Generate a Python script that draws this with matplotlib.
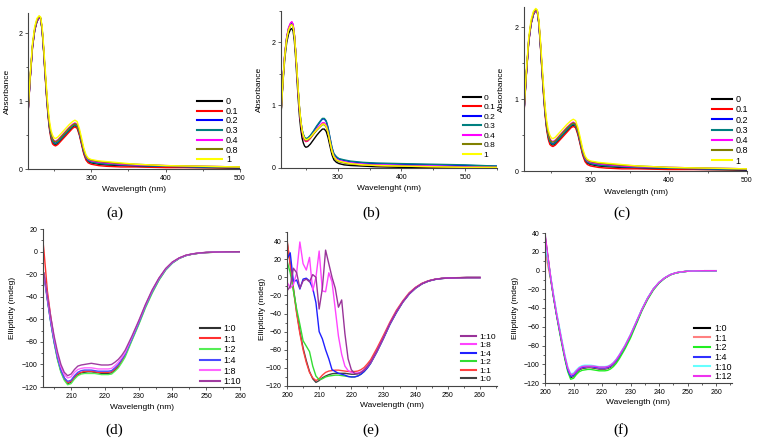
import numpy as np
import matplotlib
matplotlib.use('Agg')
from matplotlib import pyplot as plt
from matplotlib.ticker import MultipleLocator

W, H = 759, 442                      # output size in px
plt.rcParams['font.family'] = ['Liberation Sans', 'DejaVu Sans']

#%% UV-vis data, panel (a) (panel (c) reads the same)
wl_a = [215, 218, 221, 224, 227, 230, 232, 234, 236, 238, 240, 242, 244, 246, 248, 250, 252, 255, 260, 265,
        270, 275, 278, 281, 284, 287, 290, 293, 296, 300, 310, 320, 340, 360, 400, 450, 500]
a_0   = [0.82, 1.35, 1.80, 2.05, 2.18, 2.24, 2.22, 2.05, 1.75, 1.40, 1.08, 0.80, 0.60, 0.47, 0.40, 0.37, 0.36, 0.38, 0.44, 0.50,
         0.56, 0.62, 0.64, 0.62, 0.52, 0.38, 0.24, 0.15, 0.11, 0.09, 0.07, 0.06, 0.05, 0.04, 0.03, 0.02, 0.01]
a_01  = [0.80, 1.33, 1.78, 2.04, 2.17, 2.23, 2.21, 2.04, 1.73, 1.38, 1.05, 0.77, 0.57, 0.44, 0.37, 0.35, 0.34, 0.36, 0.42, 0.48,
         0.54, 0.60, 0.62, 0.60, 0.50, 0.36, 0.22, 0.13, 0.09, 0.07, 0.05, 0.04, 0.03, 0.03, 0.02, 0.02, 0.02]
a_02  = [0.82, 1.35, 1.80, 2.05, 2.18, 2.24, 2.22, 2.06, 1.76, 1.42, 1.10, 0.82, 0.62, 0.49, 0.42, 0.39, 0.38, 0.40, 0.46, 0.52,
         0.58, 0.64, 0.66, 0.64, 0.54, 0.40, 0.26, 0.17, 0.13, 0.11, 0.09, 0.08, 0.06, 0.05, 0.04, 0.03, 0.02]
a_03  = [0.82, 1.35, 1.80, 2.05, 2.18, 2.24, 2.22, 2.05, 1.75, 1.41, 1.09, 0.81, 0.61, 0.48, 0.41, 0.38, 0.37, 0.39, 0.45, 0.51,
         0.57, 0.63, 0.65, 0.63, 0.53, 0.39, 0.25, 0.16, 0.12, 0.10, 0.08, 0.07, 0.06, 0.05, 0.04, 0.03, 0.02]
a_04  = [0.83, 1.36, 1.81, 2.06, 2.19, 2.24, 2.22, 2.07, 1.78, 1.44, 1.13, 0.85, 0.65, 0.52, 0.45, 0.42, 0.41, 0.43, 0.49, 0.55,
         0.61, 0.66, 0.68, 0.66, 0.56, 0.42, 0.28, 0.18, 0.14, 0.12, 0.10, 0.09, 0.07, 0.06, 0.05, 0.04, 0.03]
a_08  = [0.84, 1.37, 1.82, 2.07, 2.20, 2.25, 2.23, 2.07, 1.78, 1.44, 1.12, 0.84, 0.64, 0.51, 0.44, 0.41, 0.40, 0.42, 0.48, 0.54,
         0.60, 0.65, 0.67, 0.65, 0.56, 0.42, 0.28, 0.19, 0.15, 0.13, 0.11, 0.10, 0.08, 0.07, 0.05, 0.04, 0.03]
a_1   = [0.85, 1.40, 1.85, 2.10, 2.22, 2.26, 2.24, 2.10, 1.82, 1.50, 1.18, 0.90, 0.70, 0.57, 0.50, 0.46, 0.45, 0.47, 0.53, 0.59,
         0.65, 0.70, 0.72, 0.70, 0.60, 0.46, 0.31, 0.21, 0.16, 0.14, 0.12, 0.11, 0.09, 0.07, 0.05, 0.04, 0.03]

#%% UV-vis data, panel (b)
wl_b = [211, 214, 217, 220, 223, 226, 228, 230, 232, 234, 236, 238, 240, 242, 244, 246, 248, 250, 253, 257,
        262, 267, 272, 276, 279, 282, 285, 288, 291, 294, 298, 302, 310, 320, 340, 360, 400, 450, 500, 550]
b_0   = [0.84, 1.35, 1.75, 2.00, 2.14, 2.21, 2.22, 2.18, 2.02, 1.75, 1.42, 1.10, 0.82, 0.62, 0.48, 0.40, 0.35, 0.33, 0.34, 0.38,
         0.45, 0.52, 0.58, 0.62, 0.62, 0.58, 0.48, 0.34, 0.21, 0.13, 0.09, 0.07, 0.05, 0.04, 0.03, 0.02, 0.01, 0.01, 0.00, 0.00]
b_01  = [0.86, 1.39, 1.82, 2.08, 2.23, 2.30, 2.32, 2.28, 2.12, 1.85, 1.53, 1.21, 0.93, 0.72, 0.58, 0.49, 0.44, 0.42, 0.43, 0.47,
         0.54, 0.61, 0.67, 0.71, 0.71, 0.67, 0.56, 0.41, 0.27, 0.18, 0.13, 0.11, 0.09, 0.07, 0.05, 0.04, 0.03, 0.02, 0.01, 0.01]
b_02  = [0.86, 1.39, 1.81, 2.07, 2.21, 2.28, 2.30, 2.26, 2.11, 1.85, 1.54, 1.23, 0.95, 0.75, 0.61, 0.53, 0.48, 0.46, 0.47, 0.51,
         0.58, 0.66, 0.73, 0.78, 0.78, 0.74, 0.63, 0.47, 0.32, 0.22, 0.17, 0.14, 0.12, 0.10, 0.08, 0.07, 0.06, 0.05, 0.04, 0.03]
b_03  = [0.86, 1.40, 1.82, 2.08, 2.22, 2.29, 2.31, 2.27, 2.12, 1.86, 1.55, 1.24, 0.96, 0.76, 0.62, 0.54, 0.49, 0.47, 0.48, 0.52,
         0.59, 0.67, 0.74, 0.79, 0.79, 0.75, 0.64, 0.48, 0.33, 0.23, 0.18, 0.15, 0.13, 0.11, 0.09, 0.08, 0.07, 0.06, 0.05, 0.03]
b_04  = [0.87, 1.40, 1.83, 2.09, 2.24, 2.31, 2.33, 2.29, 2.13, 1.86, 1.54, 1.22, 0.94, 0.73, 0.59, 0.50, 0.45, 0.43, 0.44, 0.48,
         0.55, 0.62, 0.68, 0.72, 0.72, 0.68, 0.57, 0.42, 0.28, 0.19, 0.14, 0.12, 0.10, 0.08, 0.06, 0.05, 0.04, 0.03, 0.02, 0.01]
b_08  = [0.86, 1.38, 1.80, 2.06, 2.20, 2.27, 2.28, 2.25, 2.10, 1.85, 1.55, 1.24, 0.96, 0.75, 0.60, 0.51, 0.46, 0.44, 0.45, 0.48,
         0.54, 0.60, 0.65, 0.69, 0.69, 0.65, 0.55, 0.40, 0.26, 0.17, 0.12, 0.10, 0.08, 0.06, 0.05, 0.04, 0.03, 0.02, 0.01, 0.01]
b_1   = [0.86, 1.38, 1.80, 2.06, 2.20, 2.27, 2.28, 2.25, 2.11, 1.86, 1.56, 1.25, 0.97, 0.76, 0.61, 0.52, 0.47, 0.45, 0.46, 0.49,
         0.55, 0.61, 0.66, 0.70, 0.70, 0.66, 0.56, 0.41, 0.27, 0.18, 0.13, 0.11, 0.09, 0.07, 0.05, 0.04, 0.03, 0.02, 0.01, 0.01]

uv_labels = ['0', '0.1', '0.2', '0.3', '0.4', '0.8', '1']
uv_colors = ['black', '#ff0000', '#0000ff', '#008080', '#ff00ff', '#808000', '#ffff00']

#%% CD data, panel (d)
wl_d = [201.5, 202, 203, 204, 205, 206, 207, 208, 209, 210, 211, 212, 213, 214, 215, 216, 217, 218, 219, 220,
        221, 222, 223, 224, 225, 226, 228, 230, 232, 234, 236, 238, 240, 242, 244, 246, 248, 250, 253, 256, 260]
d_10  = [np.nan, -20, -42, -62, -80, -95, -106, -113, -117, -116, -112, -109, -107.5, -107, -106.5, -106.5, -107, -107.5, -108, -108,
         -108, -107.5, -105, -102, -97, -92, -78, -64, -49, -36, -25, -16, -10, -6, -3.5, -2.2, -1.4, -0.9, -0.5, -0.3, -0.2]
d_11  = [15, 0, -35, -58, -78, -94, -105, -112, -116, -115, -111, -108, -107, -106, -106, -106, -106.5, -107, -107, -107,
         -107, -106.5, -104, -101, -96.5, -91.5, -77, -63, -48, -35, -24, -15.5, -9.5, -5.8, -3.4, -2.1, -1.3, -0.8, -0.4, -0.2, -0.1]
d_12  = [np.nan, -19, -42, -63, -81, -96, -107, -114, -118, -117, -113, -110, -108.5, -108, -108, -108, -108, -108.5, -109, -109,
         -109, -108.5, -106, -103, -98.5, -93.5, -79, -65, -50, -37, -25.5, -16.5, -10.2, -6.1, -3.6, -2.2, -1.4, -0.9, -0.5, -0.3, -0.2]
d_14  = [np.nan, -22, -43, -63, -80, -94, -105, -112, -115, -114, -110, -107, -105.5, -105, -105, -105, -105.5, -106, -106, -106,
         -106, -105.5, -103, -100, -95.5, -91, -77.5, -63.5, -48.5, -35.5, -24.5, -15.8, -9.8, -5.9, -3.5, -2.1, -1.3, -0.8, -0.4, -0.2, -0.1]
d_18  = [np.nan, -20, -40, -60, -77, -91, -102, -109, -112, -111, -107, -104.5, -103.5, -103, -103, -103, -103.5, -104, -104, -104,
         -104, -103.5, -101, -98, -94, -89.5, -76, -62, -47.5, -34.5, -23.8, -15.3, -9.4, -5.7, -3.3, -2.0, -1.2, -0.8, -0.4, -0.2, -0.1]
d_110 = [np.nan, -19, -39, -58, -75, -89, -100, -107, -110, -108.5, -104.5, -101.5, -100.5, -100, -99.5, -99, -99.5, -100, -100.5, -100.5,
         -100.5, -100, -98, -95.5, -92, -87.5, -75, -61.5, -47, -34, -23.5, -15, -9.2, -5.6, -3.2, -2.0, -1.2, -0.7, -0.4, -0.2, -0.1]
d_labels = ['1:0', '1:1', '1:2', '1:4', '1:8', '1:10']
d_colors = ['#303030', '#ff3030', '#55ee55', '#4a4aff', '#ff66ff', '#a03ca0']

#%% CD data, panel (e)
wl_e = [200, 201, 202, 203, 204, 205, 206, 207, 208, 209, 210, 211, 212, 213, 214, 215, 216, 217, 218, 219, 220, 221,
        222, 223, 224, 225, 226, 228, 230, 232, 234, 236, 238, 240, 242, 244, 246, 248, 250, 253, 256, 260]
e_10  = [40, 15, -12, -38, -60, -78, -92, -104, -112, -116, -114, -111, -109, -107.5, -106.5, -106, -106, -106, -106, -106.5, -107, -107,
         -106.5, -105, -102, -98, -93, -80, -66, -51, -38, -27, -18, -11.5, -7, -4, -2.3, -1.3, -0.8, -0.5, -0.3, -0.3]
e_11  = [42, 14, -14, -40, -62, -80, -94, -105, -111, -114, -112, -108, -105, -103.5, -103, -102.5, -102.5, -103, -103.5, -104, -104, -104,
         -103.5, -102, -99.5, -95.5, -91, -78, -64, -49.5, -36.5, -26, -17, -11, -6.5, -3.8, -2.1, -1.2, -0.7, -0.4, -0.2, -0.2]
e_12  = [18, 5, -15, -35, -52, -70, -76, -82, -98, -109, -113, -112, -110, -109, -108.5, -108, -108, -108.5, -109, -109.5, -110, -110,
         -109, -107, -104, -100, -95, -82, -67.5, -52, -39, -27.5, -18.5, -12, -7.2, -4.2, -2.4, -1.4, -0.9, -0.5, -0.3, -0.3]
e_14  = [20, 27, -5, -3, -13, -2, -1, -4, -12, -28, -60, -68, -80, -90, -102, -104, -106, -107, -108, -109.5, -110, -110,
         -109, -107, -104, -100, -95, -82, -67.5, -52, -39, -27.5, -18.5, -12, -7.2, -4.2, -2.4, -1.4, -0.9, -0.5, -0.3, -0.3]
e_18  = [-5, -12, -8, 5, 39, 15, 8, 22, -15, 0, 29, -15, -16, 5, -5, -35, -65, -85, -98, -103, -105, -106,
         -105.5, -104.5, -102, -98.5, -94, -81, -66.5, -51, -38, -27, -18, -11.5, -7, -4, -2.3, -1.3, -0.8, -0.5, -0.3, -0.3]
e_110 = [-15, -10, 10, 5, -12, -4, -2, -5, 3, 0, -35, -12, 30, 15, 0, -12, -33, -25, -62, -90, -102, -106,
         -106.5, -105, -102.5, -98.5, -94, -81, -66.5, -51, -38, -27, -18, -11.5, -7, -4, -2.3, -1.3, -0.8, -0.5, -0.3, -0.3]
e_colors = ['#404040', '#ff4040', '#33dd33', '#2020ff', '#ff44ff', '#993399']

#%% CD data, panel (f)
wl_f = wl_e
f_10  = [38, 15, -8, -28, -46, -62, -78, -93, -106, -114, -113, -109, -106, -104.5, -104, -103.5, -103.5, -104, -104.5, -105, -105, -105,
         -104.5, -103, -100.5, -97, -92.5, -82, -70, -56, -42, -30, -20, -13, -8, -4.5, -2.5, -1.5, -0.8, -0.4, -0.2, -0.2]
f_11  = [22, 5, -10, -28, -46, -62, -78, -93, -106, -113, -112.5, -108.5, -105.5, -104, -103.5, -103, -103, -103.5, -104, -104.5, -104.5, -104.5,
         -104, -102.5, -100, -96.5, -92, -81.5, -69.5, -55.5, -41.5, -29.5, -19.8, -12.8, -7.9, -4.4, -2.4, -1.4, -0.8, -0.4, -0.2, -0.2]
f_12  = [35, 13, -9, -29, -47, -64, -80, -95, -108, -116, -115, -111, -108, -106.5, -106, -105.5, -105.5, -106, -106.5, -107, -107, -107,
         -106.5, -105, -102.5, -99, -94.5, -84, -72, -57.5, -43, -31, -21, -13.5, -8.3, -4.7, -2.6, -1.5, -0.8, -0.4, -0.2, -0.2]
f_14  = [30, 12, -8, -28, -46, -62, -78, -93, -106, -113, -112, -108, -105, -103.5, -103, -102.5, -102.5, -103, -103.5, -104, -104, -104,
         -103.5, -102, -99.5, -96, -91.5, -81, -69, -55.5, -41.5, -29.5, -19.8, -12.8, -7.9, -4.4, -2.4, -1.4, -0.8, -0.4, -0.2, -0.2]
f_110 = [28, 12, -6, -25, -43, -59, -75, -90, -103, -110, -109.5, -106, -103, -101.5, -101, -101, -101, -101.5, -102, -102.5, -102.5, -102.5,
         -102, -100.5, -98, -94.5, -90, -80, -68, -54.5, -41, -29, -19.5, -12.5, -7.7, -4.3, -2.4, -1.4, -0.8, -0.4, -0.2, -0.2]
f_112 = [40, 16, -7, -27, -45, -61, -77, -92, -104, -111, -110.5, -107, -104, -102.5, -102, -102, -102, -102, -102.5, -103, -103, -103,
         -102.5, -101, -98.5, -95, -90.5, -80.5, -68.5, -55, -41.5, -29.5, -19.8, -12.7, -7.8, -4.4, -2.4, -1.4, -0.8, -0.4, -0.2, -0.2]
f_labels = ['1:0', '1:1', '1:2', '1:4', '1:10', '1:12']
f_colors = ['black', '#ff8080', '#22ee22', '#3030ff', '#66ffff', '#ee33ee']

#%%
fig = plt.figure(figsize=(W/100, H/100), dpi=100)


def make_ax(l, t, r, b):
    # pixel box -> figure fraction
    ax = fig.add_axes([l/W, 1 - b/H, (r - l)/W, (b - t)/H])
    for s in ['top', 'right']:
        ax.spines[s].set_visible(False)
    for s in ['left', 'bottom']:
        ax.spines[s].set_color('#444444')
        ax.spines[s].set_linewidth(0.8)
    ax.tick_params(which='both', direction='out', labelsize=5, width=0.6, color='#444444', pad=1.5)
    ax.tick_params(which='major', length=2.5)
    ax.tick_params(which='minor', length=1.5)
    return ax


def label_ax(ax, xl, yl, xdist, ydist, l, t, r, b):
    # xdist / ydist: px from the spine to the near edge of the label text
    ax.set_xlabel(xl, fontsize=6)
    ax.set_ylabel(yl, fontsize=6)
    ax.xaxis.set_label_coords(0.5, -xdist/(b - t))
    ax.yaxis.set_label_coords(-ydist/(r - l), 0.5)


def put_legend(ax, handles, labels, x, ytop, hl, ls, fs):
    leg = ax.legend(handles, labels, loc='upper left', bbox_to_anchor=(x/W, 1 - ytop/H),
                    bbox_transform=fig.transFigure, frameon=False, borderpad=0, borderaxespad=0,
                    handlelength=hl, handletextpad=0.4, labelspacing=ls, fontsize=fs)
    for ln in leg.get_lines():
        ln.set_linewidth(1.5)


uv_a = [a_0, a_01, a_02, a_03, a_04, a_08, a_1]
uv_b = [b_0, b_01, b_02, b_03, b_04, b_08, b_1]

# (a)
box = (28, 13, 240, 169)
ax = make_ax(*box)
hs = [ax.plot(wl_a, y, color=c, lw=1.0)[0] for y, c in zip(uv_a, uv_colors)]
ax.set_xlim(215, 500); ax.set_ylim(0, 2.3)
ax.xaxis.set_major_locator(MultipleLocator(100)); ax.xaxis.set_minor_locator(MultipleLocator(50))
ax.yaxis.set_major_locator(MultipleLocator(1)); ax.yaxis.set_minor_locator(MultipleLocator(0.5))
label_ax(ax, 'Wavelength (nm)', 'Absorbance', 17, 17, *box)
put_legend(ax, hs, uv_labels, 197, 97, 2.8, 0.08, 6.5)

# (b)
box = (281, 11, 497, 168)
ax = make_ax(*box)
hs = [ax.plot(wl_b, y, color=c, lw=1.0)[0] for y, c in zip(uv_b, uv_colors)]
ax.set_xlim(211, 550); ax.set_ylim(0, 2.5)
ax.xaxis.set_major_locator(MultipleLocator(100)); ax.xaxis.set_minor_locator(MultipleLocator(50))
ax.yaxis.set_major_locator(MultipleLocator(1)); ax.yaxis.set_minor_locator(MultipleLocator(0.5))
label_ax(ax, 'Wavelenght (nm)', 'Absorbance', 17, 18, *box)
put_legend(ax, hs, uv_labels, 463, 94, 2.1, 0.2, 6)

# (c)
box = (524, 7, 747, 171)
ax = make_ax(*box)
hs = [ax.plot(wl_a, y, color=c, lw=1.0)[0] for y, c in zip(uv_a, uv_colors)]
ax.set_xlim(215, 500); ax.set_ylim(0, 2.28)
ax.xaxis.set_major_locator(MultipleLocator(100)); ax.xaxis.set_minor_locator(MultipleLocator(50))
ax.yaxis.set_major_locator(MultipleLocator(1)); ax.yaxis.set_minor_locator(MultipleLocator(0.5))
label_ax(ax, 'Wavelength (nm)', 'Absorbance', 18, 19, *box)
put_legend(ax, hs, uv_labels, 712, 95, 2.2, 0.14, 6.5)

# (d)
box = (43, 229, 240, 387)
ax = make_ax(*box)
cd_d = [d_10, d_11, d_12, d_14, d_18, d_110]
hs = [ax.plot(wl_d, y, color=c, lw=1.0)[0] for y, c in zip(cd_d, d_colors)]
ax.set_xlim(201.7, 260); ax.set_ylim(-120, 20)
ax.xaxis.set_major_locator(MultipleLocator(10)); ax.xaxis.set_minor_locator(MultipleLocator(5))
ax.yaxis.set_major_locator(MultipleLocator(20)); ax.yaxis.set_minor_locator(MultipleLocator(10))
label_ax(ax, 'Wavelength (nm)', 'Ellipticity (mdeg)', 17, 27, *box)
put_legend(ax, hs, d_labels, 200, 324, 2.2, 0.18, 6.5)

# (e)
box = (287, 232, 497, 386)
ax = make_ax(*box)
cd_e = [e_10, e_11, e_12, e_14, e_18, e_110]
hs = [ax.plot(wl_e, y, color=c, lw=1.0)[0] for y, c in zip(cd_e, e_colors)]
ax.set_xlim(200, 265.3); ax.set_ylim(-120, 50)
ax.xaxis.set_major_locator(MultipleLocator(10)); ax.xaxis.set_minor_locator(MultipleLocator(5))
ax.yaxis.set_major_locator(MultipleLocator(20)); ax.yaxis.set_minor_locator(MultipleLocator(10))
label_ax(ax, 'Wavelength (nm)', 'Ellipticity (mdeg)', 16, 21, *box)
put_legend(ax, hs[::-1], d_labels[::-1], 461, 333, 1.8, 0.08, 6)

# (f)
box = (545, 233, 732, 383)
ax = make_ax(*box)
cd_f = [f_10, f_11, f_12, f_14, f_110, f_112]
hs = [ax.plot(wl_f, y, color=c, lw=1.0)[0] for y, c in zip(cd_f, f_colors)]
ax.set_xlim(200, 265.6); ax.set_ylim(-120, 40)
ax.xaxis.set_major_locator(MultipleLocator(10)); ax.xaxis.set_minor_locator(MultipleLocator(5))
ax.yaxis.set_major_locator(MultipleLocator(20)); ax.yaxis.set_minor_locator(MultipleLocator(10))
label_ax(ax, 'Wavelength (nm)', 'Ellipticity (mdeg)', 16, 26, *box)
put_legend(ax, hs, f_labels, 694, 324, 1.8, 0.07, 6.5)

# panel letters
for txt, x, y in [('(a)', 115, 213), ('(b)', 371, 213), ('(c)', 622, 213),
                  ('(d)', 114, 430), ('(e)', 371, 430), ('(f)', 621, 430)]:
    fig.text(x/W, 1 - y/H, txt, ha='center', va='center', fontsize=11, family='Liberation Serif')

fig.savefig('out.png', dpi=100)
